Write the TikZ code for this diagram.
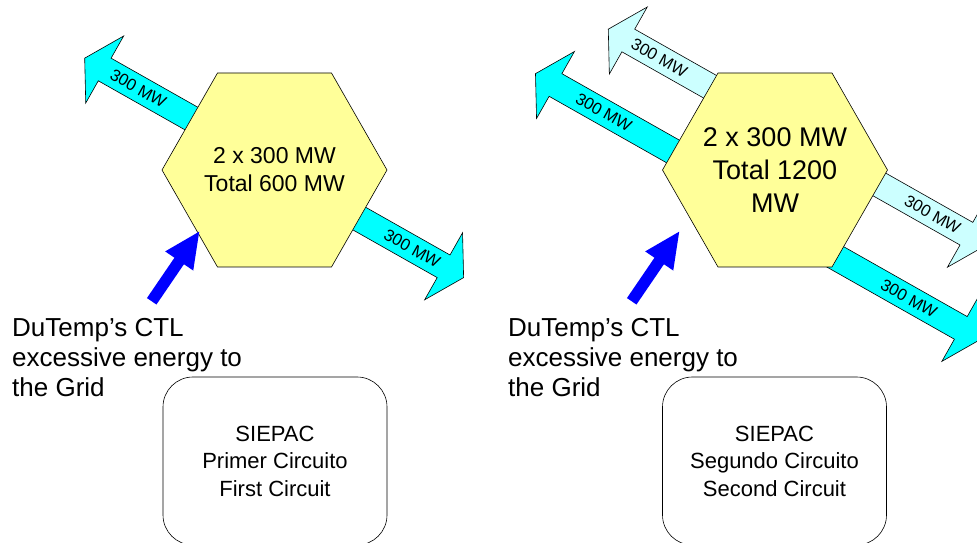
\documentclass[tikz,border=0pt]{standalone}
\usepackage{fontspec}
\setmainfont{Liberation Sans}
\definecolor{flowcyan}{HTML}{00FFFF}
\definecolor{flowlight}{HTML}{CCFFFF}
\definecolor{hexyellow}{HTML}{FFFF99}
\definecolor{injectblue}{HTML}{0000FF}
\newcommand\flowarrow[3]{\filldraw[flowline, fill=#3, shift={#1}, rotate=#2] (-200,-13) -- (0,-13) -- (0,-38.5) -- (23,0) -- (0,38.5) -- (0,13) -- (-200,13) -- cycle;}
\newcommand\injectarrow[1]{\fill[injectblue, shift={#1}, rotate=55.7] (0,-5.75) -- (48.8,-5.75) -- (48.8,-17) -- (84.3,0) -- (48.8,17) -- (48.8,5.75) -- (0,5.75) -- cycle;}
\newcommand\hexplate[1]{\filldraw[hexline, shift={#1}] (-112.5,0) -- (-57,97) -- (57,97) -- (112.5,0) -- (57,-97) -- (-57,-97) -- cycle;}
\begin{document}
\begin{tikzpicture}[x=1pt,y=1pt,
  flowline/.style={draw=black, line width=0.6pt, line join=miter},
  hexline/.style={draw=black, line width=0.6pt, fill=hexyellow, line join=miter},
  hextext/.style={inner sep=0pt, align=center},
  mwlabel/.style={rotate=-29.5, font=\fontsize{16.5}{18}\selectfont, inner sep=0pt},
  boxnode/.style={draw=black, line width=0.6pt, rounded corners=30pt, minimum width=224pt, minimum height=168pt, align=center, font=\fontsize{22}{27.5}\selectfont},
  note/.style={align=left, anchor=north west, inner sep=0pt, font=\fontsize{26}{30}\selectfont}]
\useasboundingbox (0,0) rectangle (977,543);
\clip (0,0) rectangle (977,543);
% arrow base points (where the head starts)
\coordinate (a1) at (104.7,473.5);
\coordinate (a2) at (443.6,276.7);
\coordinate (a3) at (555.5,458);
\coordinate (a4) at (628.3,502.5);
\coordinate (a5) at (966.4,309.3);
\coordinate (a6) at (960.8,215.1);
\flowarrow{(a1)}{150.5}{flowcyan}
\flowarrow{(a2)}{-29.5}{flowcyan}
\flowarrow{(a3)}{150.5}{flowcyan}
\flowarrow{(a4)}{150.5}{flowlight}
\flowarrow{(a5)}{-29.5}{flowlight}
\flowarrow{(a6)}{-29.5}{flowcyan}
% hexagons
\coordinate (hcA) at (274.5,373);
\coordinate (hcB) at (775,373);
\hexplate{(hcA)}
\hexplate{(hcB)}
\node[hextext, font=\fontsize{23}{28}\selectfont] (hexA) at (hcA) {2 x 300 MW\\Total 600 MW};
\node[hextext, font=\fontsize{27}{33}\selectfont] (hexB) at (hcB) {2 x 300 MW\\Total 1200\\MW};
% labels
\node[mwlabel] (l1) at (138.3,454.5) {300 MW};
\node[mwlabel] (l2) at (412.2,294.5) {300 MW};
\node[mwlabel] (l3) at (603.8,430.7) {300 MW};
\node[mwlabel] (l4) at (659.3,485) {300 MW};
\node[mwlabel] (l5) at (932.6,328.4) {300 MW};
\node[mwlabel] (l6) at (908.9,244.4) {300 MW};
% injection arrows
\coordinate (b1) at (151.7,241.7);
\coordinate (b2) at (631.7,241.7);
\injectarrow{(b1)}
\injectarrow{(b2)}
% notes
\node[note] (n1) at (12,224.6) {DuTemp’s CTL\\excessive energy to\\the Grid};
\node[note] (n2) at (508,224.6) {DuTemp’s CTL\\excessive energy to\\the Grid};
% SIEPAC boxes
\node[boxnode] (s1) at (275,82) {SIEPAC\\Primer Circuito\\First Circuit};
\node[boxnode] (s2) at (774.5,82) {SIEPAC\\Segundo Circuito\\Second Circuit};
\end{tikzpicture}
\end{document}
